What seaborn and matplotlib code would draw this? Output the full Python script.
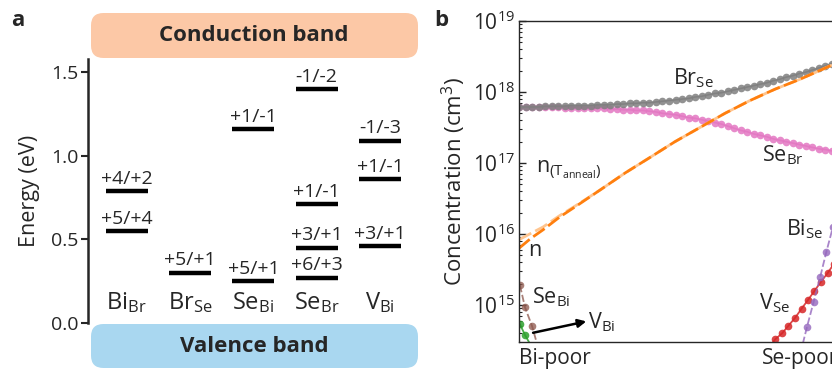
import numpy as np
import matplotlib
matplotlib.use("Agg")
import matplotlib.pyplot as plt
import seaborn as sns
from matplotlib.patches import FancyBboxPatch
from matplotlib.ticker import LogLocator, LogFormatterMathtext, NullFormatter

# ---------------- data: panel a ----------------
defects = ["Bi$_{\\mathrm{Br}}$", "Br$_{\\mathrm{Se}}$", "Se$_{\\mathrm{Bi}}$",
           "Se$_{\\mathrm{Br}}$", "V$_{\\mathrm{Bi}}$"]
level_defect = [0, 0, 1, 2, 2, 3, 3, 3, 3, 4, 4, 4]
level_energy = [0.79, 0.55, 0.30, 0.25, 1.16, 1.40, 0.71, 0.45, 0.27, 1.09, 0.86, 0.46]
level_label = ["+4/+2", "+5/+4", "+5/+1", "+5/+1", "+1/-1", "-1/-2", "+1/-1",
               "+3/+1", "+6/+3", "-1/-3", "+1/-1", "+3/+1"]
energy_ticks = [0.0, 0.5, 1.0, 1.5]

# ---------------- data: panel b (log10 of concentration) ----------------
mu_dense = np.linspace(0, 1, 49)
brse_log = [17.79, 17.79, 17.79, 17.79, 17.80, 17.80, 17.80, 17.80, 17.81, 17.81,
            17.81, 17.81, 17.82, 17.82, 17.82, 17.83, 17.83, 17.84, 17.84, 17.85,
            17.85, 17.86, 17.87, 17.88, 17.89, 17.90, 17.91, 17.93, 17.94, 17.96,
            17.98, 17.99, 18.01, 18.03, 18.05, 18.07, 18.09, 18.11, 18.13, 18.16,
            18.18, 18.21, 18.23, 18.26, 18.28, 18.31, 18.34, 18.37, 18.40]
sebr_log = [17.79, 17.79, 17.79, 17.79, 17.79, 17.79, 17.79, 17.78, 17.78, 17.78,
            17.78, 17.77, 17.77, 17.77, 17.76, 17.76, 17.75, 17.75, 17.74, 17.74,
            17.73, 17.72, 17.70, 17.69, 17.68, 17.66, 17.64, 17.63, 17.61, 17.59,
            17.57, 17.55, 17.52, 17.49, 17.46, 17.44, 17.41, 17.39, 17.37, 17.34,
            17.32, 17.30, 17.28, 17.26, 17.24, 17.22, 17.20, 17.19, 17.17]
n_mu = [0.0, 0.038, 0.077, 0.130, 0.185, 0.259, 0.339, 0.419, 0.498, 0.578,
        0.658, 0.738, 0.818, 0.898, 1.0]
n_log = [15.80, 15.94, 16.06, 16.24, 16.40, 16.62, 16.86, 17.08, 17.30, 17.50,
         17.70, 17.88, 18.04, 18.18, 18.38]
nann_log = [15.92, 16.01, 16.10, 16.26, 16.41, 16.62, 16.86, 17.08, 17.30, 17.50,
            17.70, 17.88, 18.04, 18.18, 18.38]
sebi_mu = [0.003, 0.019, 0.042, 0.061]
sebi_log = [15.28, 14.97, 14.70, 14.40]
vbi_mu = [0.003, 0.019, 0.042]
vbi_log = [14.73, 14.58, 14.40]
vse_mu = [0.799, 0.819, 0.840, 0.861, 0.882, 0.903, 0.923, 0.944, 0.965, 0.986, 1.006]
vse_log = [14.40, 14.52, 14.60, 14.71, 14.82, 14.95, 15.07, 15.20, 15.33, 15.45, 15.58]
bise_mu = [0.899, 0.920, 0.941, 0.962, 0.982, 1.003]
bise_log = [14.32, 14.69, 15.04, 15.39, 15.75, 16.10]
xtick_pos = [0.0, 0.776]
xtick_lab = ["Bi-poor", "Se-poor"]

# ---------------- style ----------------
sns.set_theme(style="ticks")
plt.rcParams['font.family'] = ['Open Sans', 'DejaVu Sans']
plt.rcParams['mathtext.fontset'] = 'custom'
plt.rcParams['mathtext.rm'] = 'Open Sans'
plt.rcParams['mathtext.it'] = 'Open Sans'
plt.rcParams['mathtext.bf'] = 'Open Sans:bold'
plt.rcParams['mathtext.default'] = 'regular'

W, H = 832, 370
fig = plt.figure(figsize=(W / 100, H / 100), dpi=100)

def fx(px):
    return px / W

def fy(py):
    return 1 - py / H

# ---------------- panel a ----------------
axa = fig.add_axes([fx(88), fy(323), fx(418) - fx(88), fy(59) - fy(323)])
axa.set_ylim(0, 1.58)
axa.set_xlim(-0.61, 4.6)
for d, e, lab in zip(level_defect, level_energy, level_label):
    axa.hlines(e, d - 0.33, d + 0.33, color='black', lw=3.2)
    axa.annotate(lab, (d, e), xytext=(0, 2.5), textcoords='offset points',
                 ha='center', va='bottom', fontsize=14)
for i, name in enumerate(defects):
    axa.text(i, 0.085, name, ha='center', va='baseline', fontsize=17)
axa.set_yticks(energy_ticks)
axa.set_yticklabels([f"{t:.1f}" for t in energy_ticks])
axa.tick_params(axis='y', direction='out', length=5, width=1.5, labelsize=14, pad=2)
axa.set_xticks([])
for s in ['top', 'right', 'bottom']:
    axa.spines[s].set_visible(False)
axa.spines['left'].set_linewidth(1.8)
axa.set_ylabel("Energy (eV)", fontsize=15.5, labelpad=8)
axa.patch.set_alpha(0)

# band boxes
for (y0, y1, col, txt) in [(13, 58, '#FCC8A6', 'Conduction band'),
                           (324, 368, '#A9D7F0', 'Valence band')]:
    box = FancyBboxPatch((fx(91), fy(y1)), fx(418) - fx(91), fy(y0) - fy(y1),
                         boxstyle="round,pad=0,rounding_size=0.015",
                         transform=fig.transFigure, facecolor=col, edgecolor='none',
                         mutation_aspect=W / H)
    fig.patches.append(box)
    fig.text(fx(254), fy((y0 + y1) / 2), txt, ha='center', va='center',
             fontsize=16, fontweight='bold')

fig.text(fx(18), fy(21), "a", ha='center', va='center', fontsize=16, fontweight='bold')
fig.text(fx(441), fy(20), "b", ha='center', va='center', fontsize=16, fontweight='bold')

# ---------------- panel b ----------------
axb = fig.add_axes([fx(519), fy(342), 1 - fx(519), fy(21) - fy(342)])
axb.set_yscale('log')

def conc(a):
    return 10 ** np.asarray(a, dtype=float)

sns.lineplot(x=mu_dense, y=conc(sebr_log), ax=axb, color='#e377c2', marker='o',
             markersize=5.5, markeredgewidth=0, lw=1.2, alpha=0.85, sort=False)
sns.lineplot(x=mu_dense, y=conc(brse_log), ax=axb, color='#7f7f7f', marker='o',
             markersize=5.5, markeredgewidth=0, lw=1.2, alpha=0.85, sort=False)
sns.lineplot(x=n_mu, y=conc(nann_log), ax=axb, color='#ffc58f', lw=2.0, sort=False)
axb.lines[-1].set_dashes([5, 1.6])
sns.lineplot(x=n_mu, y=conc(n_log), ax=axb, color='#ff7f0e', lw=2.0, sort=False)
axb.lines[-1].set_dashes([5, 1.6])
sns.lineplot(x=sebi_mu, y=conc(sebi_log), ax=axb, color='#8c564b', marker='o',
             markersize=5.5, markeredgewidth=0, lw=1.3, alpha=0.75, sort=False)
axb.lines[-1].set_dashes([4, 1.5])
sns.lineplot(x=vbi_mu, y=conc(vbi_log), ax=axb, color='#2ca02c', marker='o',
             markersize=5.5, markeredgewidth=0, lw=1.3, alpha=0.85, sort=False)
sns.lineplot(x=vse_mu, y=conc(vse_log), ax=axb, color='#d62728', marker='o',
             markersize=5.5, markeredgewidth=0, lw=1.3, alpha=0.85, sort=False)
sns.lineplot(x=bise_mu, y=conc(bise_log), ax=axb, color='#9467bd', marker='o',
             markersize=5.5, markeredgewidth=0, lw=1.3, alpha=0.8, sort=False)
axb.lines[-1].set_dashes([4, 1.5])

axb.set_xlim(0, 1)
axb.set_ylim(10 ** 14.48, 1e19)
axb.yaxis.set_major_locator(LogLocator(base=10, numticks=10))
axb.yaxis.set_minor_locator(LogLocator(base=10, subs=np.arange(2, 10), numticks=10))
axb.yaxis.set_major_formatter(LogFormatterMathtext())
axb.yaxis.set_minor_formatter(NullFormatter())
axb.tick_params(axis='y', which='major', direction='in', length=5, width=1, labelsize=15, pad=3)
axb.tick_params(axis='y', which='minor', direction='in', length=2.5, width=0.8)
axb.set_xticks(xtick_pos)
axb.set_xticklabels(xtick_lab)
for t in axb.get_xticklabels():
    t.set_ha('left')
axb.tick_params(axis='x', length=0, labelsize=15, pad=4)
axb.spines['right'].set_visible(False)
for s in ['left', 'top', 'bottom']:
    axb.spines[s].set_linewidth(1.0)
axb.set_ylabel("Concentration (cm$^{3}$)", fontsize=16, labelpad=3)

lab_kw = dict(ha='center', va='center', fontsize=15.5)
axb.text(0.556, 10 ** 18.20, "Br$_{\\mathrm{Se}}$", **lab_kw)
axb.text(0.843, 10 ** 17.11, "Se$_{\\mathrm{Br}}$", **lab_kw)
axb.text(0.160, 10 ** 16.89, "n$_{(\\mathrm{T}_{\\mathrm{anneal}})}$", **lab_kw)
axb.text(0.051, 10 ** 15.77, "n", **lab_kw)
axb.text(0.102, 10 ** 15.11, "Se$_{\\mathrm{Bi}}$", **lab_kw)
axb.text(0.914, 10 ** 16.07, "Bi$_{\\mathrm{Se}}$", **lab_kw)
axb.text(0.815, 10 ** 15.03, "V$_{\\mathrm{Se}}$", **lab_kw)
axb.annotate("V$_{\\mathrm{Bi}}$", xy=(0.211, 10 ** 14.76), xytext=(0.222, 10 ** 14.76),
             ha='left', va='center', fontsize=15.5)
axb.annotate("", xy=(0.215, 10 ** 14.77), xytext=(0.045, 10 ** 14.61),
             arrowprops=dict(arrowstyle='-|>', color='black', lw=1.8, mutation_scale=12,
                             shrinkA=0, shrinkB=0))
axb.patch.set_alpha(0)

fig.savefig("out.png", dpi=100)
